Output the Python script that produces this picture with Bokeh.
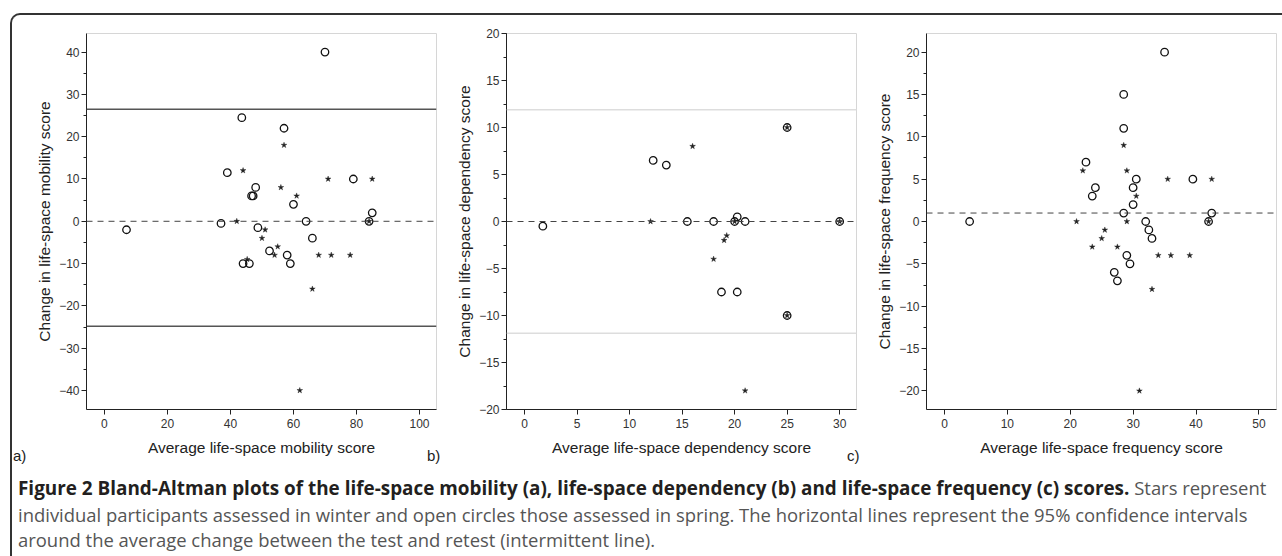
from bokeh.plotting import figure
from bokeh.models import Range1d, SingleIntervalTicker, Span, Div, Spacer
from bokeh.layouts import row, column
from bokeh.embed import file_html
from bokeh.resources import INLINE

# ---------------- data ----------------
# Panel a: life-space mobility
a_spring_x = [7, 70, 43.6, 57, 39, 48, 46.7, 47.2, 60, 79, 85, 84, 37, 64, 48.7, 66, 52.4, 58, 59, 44, 46]
a_spring_y = [-2, 40, 24.5, 22, 11.5, 8, 6, 6, 4, 10, 2, 0, -0.5, 0, -1.5, -4, -7, -8, -10, -10, -10]
a_winter_x = [44, 57, 56, 61, 71, 85, 42, 51, 50, 55, 54, 68, 72, 78, 45.3, 66, 62, 84]
a_winter_y = [12, 18, 8, 6, 10, 10, 0, -2, -4, -6, -8, -8, -8, -8, -9, -16, -40, 0]
a_mean, a_upper, a_lower = 0, 26.5, -24.8

# Panel b: life-space dependency
b_spring_x = [1.75, 12.25, 13.5, 15.5, 18, 20, 20.25, 21, 25, 30, 18.75, 20.25, 25]
b_spring_y = [-0.5, 6.5, 6, 0, 0, 0, 0.5, 0, 10, 0, -7.5, -7.5, -10]
b_winter_x = [12, 16, 19.25, 19, 18, 21, 20, 25, 25, 30]
b_winter_y = [0, 8, -1.5, -2, -4, -18, 0, 10, -10, 0]
b_mean, b_upper, b_lower = 0, 11.9, -11.9

# Panel c: life-space frequency
c_spring_x = [4, 35, 28.5, 28.5, 22.5, 24, 23.5, 30.5, 30, 30, 28.5, 32, 32.5, 33, 39.5, 42.5, 42, 29, 29.5, 27, 27.5]
c_spring_y = [0, 20, 15, 11, 7, 4, 3, 5, 4, 2, 1, 0, -1, -2, 5, 1, 0, -4, -5, -6, -7]
c_winter_x = [22, 28.5, 29, 30.5, 35.5, 42.5, 21, 29, 25.5, 25, 23.5, 27.5, 34, 36, 39, 33, 31, 42]
c_winter_y = [6, 9, 6, 3, 5, 5, 0, 0, -1, -2, -3, -3, -4, -4, -4, -8, -20, 0]
c_mean = 1.0

x_labels = ["Average life-space mobility score", "Average life-space dependency score",
            "Average life-space frequency score"]
y_labels = ["Change in life-space mobility score", "Change in life-space dependency score",
            "Change in life-space frequency score"]
panel_tags = ["a)", "b)", "c)"]

TICK_FONT = "Liberation Sans Narrow, Liberation Sans, sans-serif"
LABEL_FONT = "Liberation Sans"


def make_panel(width, border_left, border_right, xr, yr, xint, yint, xlabel, ylabel):
    p = figure(width=width, height=455, x_range=Range1d(*xr), y_range=Range1d(*yr),
               output_backend="svg", toolbar_location=None,
               min_border_left=border_left, min_border_right=border_right,
               min_border_top=18, min_border_bottom=61)
    p.grid.visible = False
    p.outline_line_color = "#d6d6d6"
    p.outline_line_width = 1
    p.background_fill_color = None
    p.border_fill_color = None
    p.xaxis.ticker = SingleIntervalTicker(interval=xint, num_minor_ticks=0)
    p.yaxis.ticker = SingleIntervalTicker(interval=yint, num_minor_ticks=2)
    for ax in (p.xaxis[0], p.yaxis[0]):
        ax.axis_line_color = "#222222"
        ax.axis_line_width = 1
        ax.major_tick_line_color = "#222222"
        ax.major_tick_in = 0
        ax.major_tick_out = 5
        ax.minor_tick_line_color = "#222222"
        ax.minor_tick_in = 0
        ax.minor_tick_out = 3
        ax.major_label_text_font = TICK_FONT
        ax.major_label_text_font_size = "12px"
        ax.major_label_text_color = "#333333"
        ax.axis_label_text_font = LABEL_FONT
        ax.axis_label_text_font_size = "15.5px"
        ax.axis_label_text_font_style = "normal"
        ax.axis_label_text_color = "#222222"
    p.xaxis.major_label_standoff = 4
    p.xaxis.axis_label_standoff = 8
    p.yaxis.major_label_standoff = 2
    p.yaxis.axis_label_standoff = 3
    p.xaxis.axis_label = xlabel
    p.yaxis.axis_label = ylabel
    return p


def add_points(p, sx, sy, wx, wy):
    p.scatter(sx, sy, marker="circle", size=7.5, fill_color=None,
              line_color="#111111", line_width=1.3)
    p.scatter(wx, wy, marker="star", size=6, fill_color="#222222",
              line_color="#222222", line_width=0.4)


pa = make_panel(429, 74, 5, (-5.7, 105.4), (-44.5, 44.4), 20, 10, x_labels[0], y_labels[0])
pb = make_panel(420, 65, 5, (-1.71, 31.6), (-20, 20), 5, 5, x_labels[1], y_labels[1])
pc = make_panel(417, 65, 2, (-2.86, 52.8), (-22.2, 22.2), 10, 5, x_labels[2], y_labels[2])

# reference lines
pa.add_layout(Span(location=a_upper, dimension="width", line_color="#555555", line_width=1.5))
pa.add_layout(Span(location=a_lower, dimension="width", line_color="#555555", line_width=1.5))
pa.add_layout(Span(location=a_mean, dimension="width", line_color="#444444", line_width=1,
                   line_dash="6 5"))
pb.add_layout(Span(location=b_upper, dimension="width", line_color="#dddddd", line_width=1.5))
pb.add_layout(Span(location=b_lower, dimension="width", line_color="#dddddd", line_width=1.5))
pb.add_layout(Span(location=b_mean, dimension="width", line_color="#444444", line_width=1,
                   line_dash="6 5"))
pc.add_layout(Span(location=c_mean, dimension="width", line_color="#444444", line_width=1,
                   line_dash="6 5"))

add_points(pa, a_spring_x, a_spring_y, a_winter_x, a_winter_y)
add_points(pb, b_spring_x, b_spring_y, b_winter_x, b_winter_y)
add_points(pc, c_spring_x, c_spring_y, c_winter_x, c_winter_y)

# panel tags a) b) c) as one transparent strip overlapping the bottom of the panels
tag_style = "display:inline-block;font-family:'Liberation Sans';font-size:15px;color:#222222"
tags_html = (
    f'<span style="{tag_style};width:415px;padding-left:1px">{panel_tags[0]}</span>'
    f'<span style="{tag_style};width:420px">{panel_tags[1]}</span>'
    f'<span style="{tag_style}">{panel_tags[2]}</span>'
)
tags = Div(text=tags_html, width=1266, height=24, margin=(-24, 0, 0, 0),
           styles={"line-height": "20px", "white-space": "nowrap"})

caption_html = (
    '<b style="color:#231f20;font-size:18.9px">Figure 2 Bland-Altman plots of the life-space mobility (a), '
    'life-space dependency (b) and life-space frequency (c) scores.</b> Stars represent<br>'
    'individual participants assessed in winter and open circles those assessed in spring. '
    'The horizontal lines represent the 95% confidence intervals<br>'
    'around the average change between the test and retest (intermittent line).'
)
caption = Div(text=caption_html, width=1270, height=76,
              styles={"font-family": "'Open Sans', sans-serif", "font-size": "18.45px",
                      "line-height": "25.5px", "color": "#555555", "white-space": "nowrap",
                      "padding-left": "1px"})

boxed = column(row(pa, pb, pc), tags, caption,
               styles={"border-top": "2px solid #333333", "border-left": "2px solid #333333",
                       "border-top-left-radius": "10px"})
layout = column(Spacer(height=13), row(Spacer(width=10), boxed))

open("out.html", "w").write(file_html(layout, INLINE))
